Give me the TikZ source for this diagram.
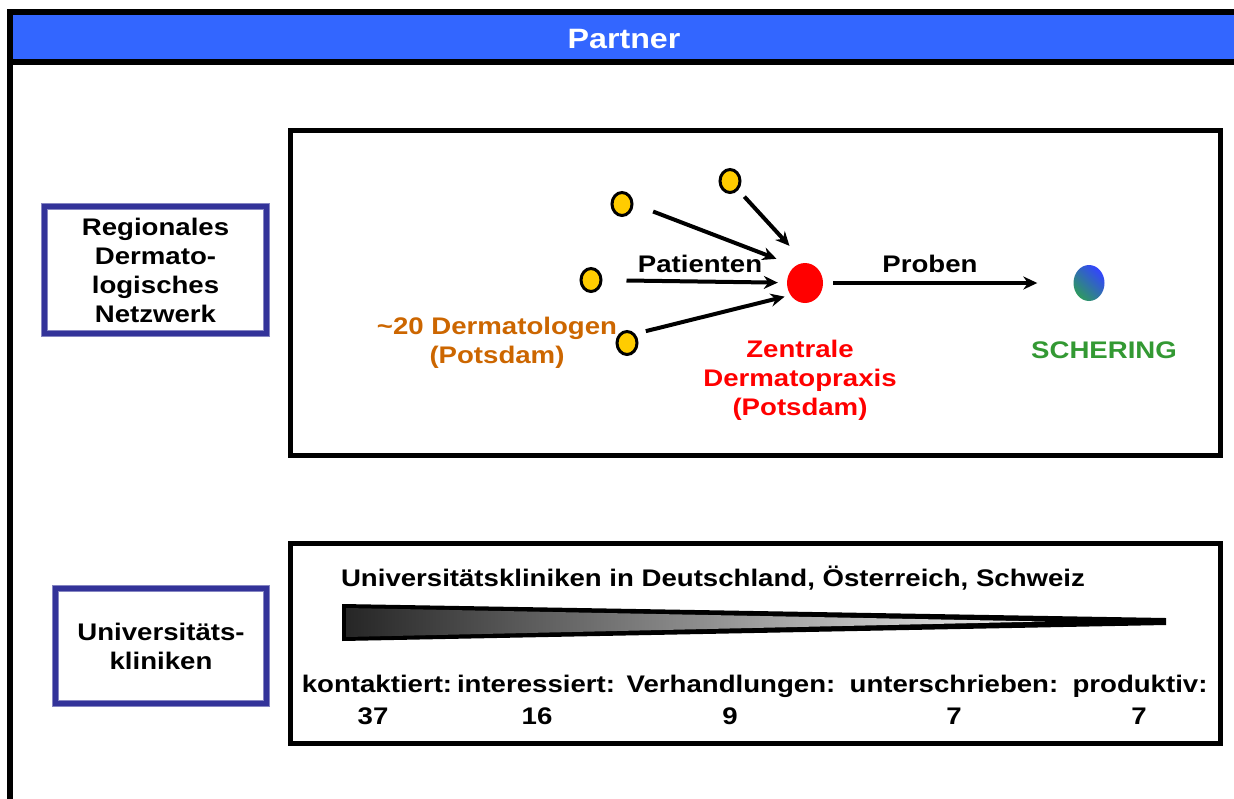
\documentclass[tikz,border=0pt]{standalone}
\usepackage{fontspec}
\setmainfont{Liberation Sans}[FakeStretch=1.15]
\usetikzlibrary{positioning, shapes.geometric, arrows.meta}
\definecolor{barblue}{HTML}{3366FF}
\definecolor{boxnavy}{HTML}{333399}
\definecolor{boxrim}{HTML}{8585C2}
\definecolor{dotyellow}{HTML}{FFCC00}
\definecolor{docorange}{HTML}{CC6600}
\definecolor{scheringgreen}{HTML}{339933}
\definecolor{spheregreen}{HTML}{2E9960}
\definecolor{sphereblue}{HTML}{3344FF}
\tikzset{
    txt/.style = {font = \fontsize{24}{29}\selectfont\bfseries, align = center, inner sep = 0pt},
    sidebox/.style = {draw = boxrim, line width = 1pt, double = boxnavy, double distance = 4.5pt, fill = white},
    bigbox/.style = {draw, line width = 5pt, inner sep = 0pt},
    dot/.style = {draw, ellipse, line width = 3pt, fill = dotyellow,
        minimum width = 20pt, minimum height = 23pt, inner sep = 0pt},
    line/.style = {-{Stealth[length = 14pt, width = 13pt]}, line width = 4pt}
}
\begin{document}
\begin{tikzpicture}[x=1pt, y=-1pt]

    \useasboundingbox (0,0) rectangle (1234,798);
    \clip (0,0) rectangle (1234,798);

    % Title bar
    \node[draw, line width = 6pt, fill = barblue, minimum width = 1240pt, minimum height = 50pt,
        anchor = north west, inner sep = 0pt, outer sep = 0pt] (bar) at (10,12) {};
    \node[txt, anchor = base, white, font = \fontsize{28}{32}\selectfont\bfseries] (title) at (624,48) {Partner};
    \coordinate (frameend) at (10,810);
    \draw[line width = 6pt] (bar.north west) -- (frameend);

    % Side boxes
    \node[sidebox, txt, minimum width = 222pt, minimum height = 127pt] (regbox) at (155.5,270)
        {Regionales\\Dermato-\\logisches\\Netzwerk};
    \node[sidebox, txt, minimum width = 211pt, minimum height = 115pt] (unibox) at (161,646)
        {Universitäts-\\kliniken};

    % Frames
    \node[bigbox, minimum width = 930pt, minimum height = 325pt] (netbox) at (755,292.5) {};
    \node[bigbox, minimum width = 930pt, minimum height = 200pt] (klinbox) at (755,643) {};

    % Network
    \node[dot] (d1) at (622,204) {};
    \node[dot] (d2) at (730,181) {};
    \node[dot] (d3) at (591,280) {};
    \node[dot] (d4) at (627,343) {};
    \node[ellipse, fill = red, minimum width = 36pt, minimum height = 40pt, inner sep = 0pt] (zentrale) at (805,283) {};
    \node[ellipse, top color = sphereblue, bottom color = spheregreen, shading angle = -45,
        minimum width = 31pt, minimum height = 36pt, inner sep = 0pt] (schering) at (1089,283) {};

    \draw[line, shorten <= 21pt, shorten >= 20pt] (d1.east) -- (zentrale.120);
    \draw[line, shorten <= 9pt, shorten >= 23pt] (d2) -- (zentrale.north);
    \draw[line, shorten <= 24pt, shorten >= 9pt] (d3) -- (zentrale);
    \draw[line, shorten <= 11pt, shorten >= 6pt] (d4.north east) -- (zentrale.220);
    \draw[line, shorten <= 10pt, shorten >= 36pt] (zentrale) -- (schering);

    \node[txt, anchor = base] (patienten) at (700,272) {Patienten};
    \node[txt, anchor = base] (proben) at (930,272) {Proben};
    \node[txt, docorange] (dermatologen) at (497,342.5) {\textasciitilde20 Dermatologen\\(Potsdam)};
    \node[txt, red] (zentraletext) at (800,380.5) {Zentrale\\Dermatopraxis\\(Potsdam)};
    \node[txt, anchor = base, scheringgreen] (scheringtext) at (1104,358.5) {SCHERING};

    % Kliniken
    \fill (342,604) -- (1166,618) -- (1166,625) -- (342,641) -- cycle;
    \shade[left color = black!85, right color = black!5] (346,608) -- (1045,621.5) -- (346,637) -- cycle;
    \node[txt, anchor = base] (klinik) at (713,586.5) {Universitätskliniken in Deutschland, Österreich, Schweiz};

    \node[txt, anchor = base] (kontakt) at (377,692.5) {kontaktiert:};
    \node[txt, anchor = base] (interesse) at (536,692.5) {interessiert:};
    \node[txt, anchor = base] (verhandlung) at (731,692.5) {Verhandlungen:};
    \node[txt, anchor = base] (unterschrift) at (954,692.5) {unterschrieben:};
    \node[txt, anchor = base] (produktiv) at (1140,692.5) {produktiv:};

    \node[txt, anchor = base] (nkontakt) at (373,724.5) {37};
    \node[txt, anchor = base] (ninteresse) at (537,724.5) {16};
    \node[txt, anchor = base] (nverhandlung) at (730,724.5) {9};
    \node[txt, anchor = base] (nunterschrift) at (954,724.5) {7};
    \node[txt, anchor = base] (nproduktiv) at (1139,724.5) {7};

\end{tikzpicture}
\end{document}
